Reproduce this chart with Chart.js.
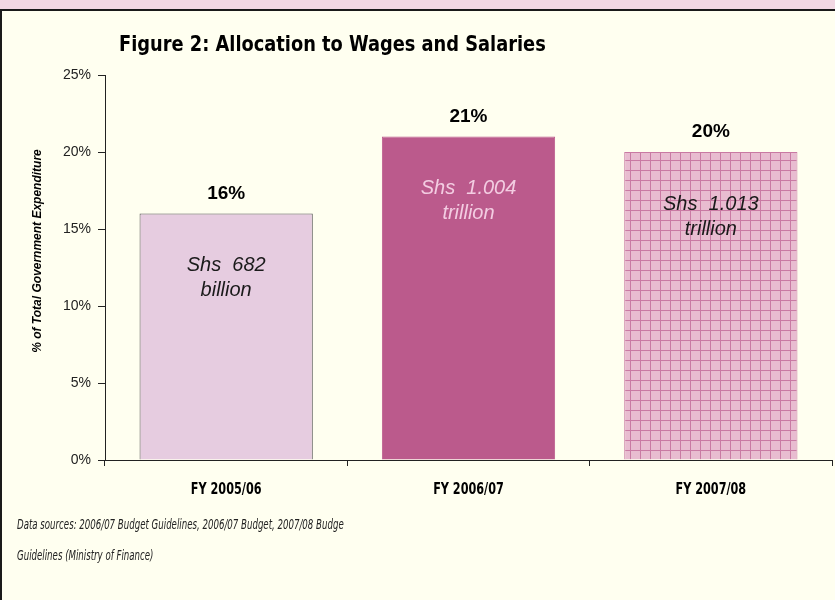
<!DOCTYPE html>
<html>
<head>
<meta charset="utf-8">
<script src="https://cdn.jsdelivr.net/npm/chart.js@4"></script>
<style>
  html, body { margin: 0; padding: 0; }
  body { width: 835px; height: 600px; overflow: hidden; background: #f2d8e4; position: relative; }
  #frame { position: absolute; left: 0; top: 9px; width: 900px; height: 700px; border: 2px solid #1a1a1a; background: #fffff0; }
  #chartBox { position: absolute; left: 0; top: 0; width: 835px; height: 600px; }
  #title { position: absolute; left: 119px; top: 31px; font: bold 22px "DejaVu Sans Condensed", sans-serif; color: #000; white-space: nowrap; transform: scaleX(0.9); transform-origin: left top; }
  .note { position: absolute; left: 17px; font: italic 13.5px "DejaVu Sans Condensed", sans-serif; color: #222; white-space: nowrap; transform: scaleX(0.71); transform-origin: left top; }
</style>
</head>
<body>
<div id="frame"></div>
<div id="chartBox"><canvas id="wagesChart" width="835" height="600"></canvas></div>
<div id="title">Figure 2: Allocation to Wages and Salaries</div>
<div class="note" style="top:516px">Data sources: 2006/07 Budget Guidelines, 2006/07 Budget, 2007/08 Budge</div>
<div class="note" style="top:547px">Guidelines (Ministry of Finance)</div>
<script>
// chart data
const categories = ['FY 2005/06', 'FY 2006/07', 'FY 2007/08'];
const shares = [16, 21, 20];
const amountLines = [['Shs  682', 'billion'], ['Shs  1.004', 'trillion'], ['Shs  1.013', 'trillion']];
const yTicks = [0, 5, 10, 15, 20, 25];

// grid pattern for the last bar
const makeGrid = () => {
  const c = document.createElement('canvas');
  c.width = 10; c.height = 10;
  const g = c.getContext('2d');
  g.fillStyle = '#e8bcd0';
  g.fillRect(0, 0, 10, 10);
  g.fillStyle = '#c97aa3';
  g.fillRect(0, 0, 10, 1);
  g.fillRect(0, 0, 1, 10);
  return g.createPattern(c, 'repeat');
};

const barLabels = {
  id: 'barLabels',
  afterDatasetsDraw(chart) {
    const ctx = chart.ctx;
    const bars = chart.getDatasetMeta(0).data;
    ctx.save();
    ctx.textAlign = 'center';
    ctx.textBaseline = 'middle';
    bars.forEach((bar, i) => {
      ctx.fillStyle = '#000';
      ctx.font = 'bold 19px "Liberation Sans", sans-serif';
      ctx.fillText(shares[i] + '%', bar.x, bar.y - 20);
      ctx.font = 'italic 20px "Liberation Sans", sans-serif';
      ctx.fillStyle = i === 1 ? '#f3cde2' : '#1a1a1a';
      ctx.fillText(amountLines[i][0], bar.x, bar.y + 52);
      ctx.fillText(amountLines[i][1], bar.x, bar.y + 77);
    });

    // category labels, condensed
    const xScale = chart.scales.x;
    ctx.fillStyle = '#000';
    ctx.font = 'bold 16px "DejaVu Sans Condensed", sans-serif';
    categories.forEach((name, i) => {
      ctx.save();
      ctx.translate(xScale.getPixelForTick(i), 490);
      ctx.scale(0.78, 1);
      ctx.fillText(name, 0, 0);
      ctx.restore();
    });

    // y axis title
    ctx.translate(38, 251);
    ctx.rotate(-Math.PI / 2);
    ctx.fillStyle = '#000';
    ctx.font = 'bold italic 12px "Liberation Sans", sans-serif';
    ctx.fillText('% of Total Government Expenditure', 0, 0);
    ctx.restore();
  }
};

new Chart(document.getElementById('wagesChart').getContext('2d'), {
  type: 'bar',
  data: {
    labels: categories,
    datasets: [{
      data: shares,
      backgroundColor: ['#e6cce0', '#bb5a8c', makeGrid()],
      borderColor: ['#555555', '#bb5a8c', '#c97aa3'],
      borderWidth: 1,
      categoryPercentage: 1,
      barPercentage: 0.715
    }]
  },
  options: {
    responsive: false,
    animation: false,
    layout: { padding: { left: 0, top: 75, right: 3, bottom: 0 } },
    plugins: { legend: { display: false }, tooltip: { enabled: false } },
    scales: {
      y: {
        min: 0,
        max: 25,
        afterFit: (s) => { s.width = 105; },
        afterBuildTicks: (s) => { s.ticks = yTicks.map((v) => ({ value: v })); },
        border: { color: '#222', width: 1 },
        grid: { drawOnChartArea: false, tickLength: 7, color: '#222' },
        ticks: { padding: 7, color: '#222', font: { family: 'Liberation Sans', size: 14 }, callback: (v) => v + '%' }
      },
      x: {
        afterFit: (s) => { s.height = 140; },
        border: { color: '#222', width: 1 },
        grid: { drawOnChartArea: false, tickLength: 6, color: '#222' },
        // labels are drawn condensed by the plugin above
        ticks: { padding: 15, color: 'rgba(0,0,0,0)', font: { size: 14 } }
      }
    }
  },
  plugins: [barLabels]
});
</script>
</body>
</html>
